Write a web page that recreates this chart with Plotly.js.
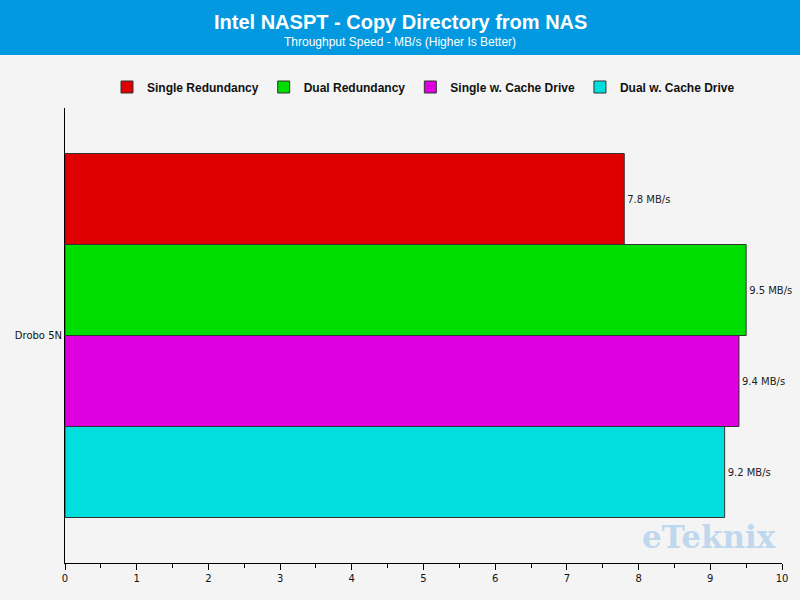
<!DOCTYPE html>
<html>
<head>
<meta charset="utf-8">
<script src="https://cdn.plot.ly/plotly-3.0.1.min.js"></script>
<style>html,body{margin:0;padding:0;background:#f4f4f4;}#chart{width:800px;height:600px;}</style>
</head>
<body>
<div id="chart"></div>
<script>
const categories = ["Drobo 5N"];
const seriesNames = ["Single Redundancy", "Dual Redundancy", "Single w. Cache Drive", "Dual w. Cache Drive"];
const singleRedundancy = [7.8];
const dualRedundancy = [9.5];
const singleCache = [9.4];
const dualCache = [9.2];
const seriesColors = ["#de0000", "#00de00", "#de00de", "#00dede"];
const xTicks = [0,1,2,3,4,5,6,7,8,9,10];

const seriesValues = [singleRedundancy, dualRedundancy, singleCache, dualCache];

const traces = seriesValues.map((vals, i) => ({
  type: 'bar',
  orientation: 'h',
  name: seriesNames[i],
  y: categories,
  x: vals,
  marker: {color: seriesColors[i], line: {color: '#333333', width: 1}},
  text: vals.map(v => v.toFixed(1) + ' MB/s'),
  textposition: 'outside',
  textfont: {family: 'DejaVu Sans, sans-serif', size: 10, color: '#222'},
  cliponaxis: false,
  hoverinfo: 'x+name'
}));

const plotW = 717, plotH = 455;
const layout = {
  width: 800, height: 600,
  paper_bgcolor: '#f4f4f4',
  plot_bgcolor: '#f4f4f4',
  margin: {l: 65, r: 18, t: 108, b: 37},
  barmode: 'group',
  bargap: 0.2,
  bargroupgap: 0,
  showlegend: true,
  legend: {
    orientation: 'h', x: 0.5, xanchor: 'center', y: 1 + (108 - 87) / plotH, yanchor: 'middle',
    font: {family: 'Liberation Sans, Arial, sans-serif', size: 12, color: '#111', weight: 'bold'},
    bgcolor: 'rgba(0,0,0,0)', itemwidth: 30, traceorder: 'normal'
  },
  xaxis: {
    range: [0, 10], tickvals: xTicks, ticks: 'outside', ticklen: 6, tickcolor: '#000',
    showline: true, linecolor: '#000', linewidth: 1, showgrid: false, zeroline: false,
    tickfont: {family: 'DejaVu Sans, sans-serif', size: 10, color: '#111'},
    minor: {dtick: 0.5, ticks: 'outside', ticklen: 4, tickcolor: '#000', showgrid: false},
    fixedrange: true
  },
  yaxis: {
    autorange: false, range: [0.5, -0.5], type: 'category',
    showline: true, linecolor: '#000', linewidth: 1, showgrid: false, ticks: '',
    tickfont: {family: 'DejaVu Sans, sans-serif', size: 10, color: '#111'},
    fixedrange: true
  },
  shapes: [{
    type: 'rect', xref: 'paper', yref: 'paper', layer: 'below',
    x0: -100 / plotW, x1: 1 + 100 / plotW,
    y0: 1 + (108 - 55) / plotH, y1: 1 + 120 / plotH,
    fillcolor: '#0299e0', line: {width: 0}
  }],
  annotations: [
    {xref: 'paper', yref: 'paper', x: (400 - 65) / plotW, y: 1 + (108 - 22) / plotH,
     xanchor: 'center', yanchor: 'middle', showarrow: false,
     text: '<b>Intel NASPT - Copy Directory from NAS</b>',
     font: {family: 'Liberation Sans, Arial, sans-serif', size: 20, color: '#fff'}},
    {xref: 'paper', yref: 'paper', x: (400 - 65) / plotW, y: 1 + (108 - 42) / plotH,
     xanchor: 'center', yanchor: 'middle', showarrow: false,
     text: 'Throughput Speed - MB/s (Higher Is Better)',
     font: {family: 'Liberation Sans, Arial, sans-serif', size: 12, color: '#fff'}},
    {xref: 'paper', yref: 'paper', x: (709 - 65) / plotW, y: (563 - 537) / plotH,
     xanchor: 'center', yanchor: 'middle', showarrow: false,
     text: '<b>eTeknix</b>',
     font: {family: 'DejaVu Serif, serif', size: 31, color: 'rgba(160,200,235,0.65)'}}
  ]
};

Plotly.newPlot('chart', traces, layout, {displayModeBar: false, staticPlot: true});
</script>
</body>
</html>
